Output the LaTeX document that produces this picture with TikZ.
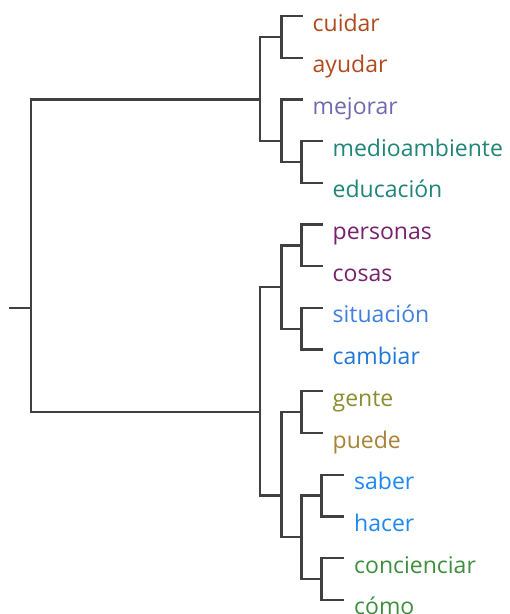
\documentclass[tikz,border=0pt]{standalone}
\usepackage{fontspec}
\setmainfont{Open Sans}
\begin{document}
\begin{tikzpicture}[x=1pt,y=-1pt,
  branch/.style={draw=black!75,line width=2.3pt,line cap=rect,line join=miter},
  leaf/.style={anchor=base west,inner sep=0pt,font=\fontsize{23}{27}\selectfont},
]
\definecolor{cBrown}{HTML}{B04A1C}
\definecolor{cLav}{HTML}{6E6AAE}
\definecolor{cTeal}{HTML}{1F8578}
\definecolor{cPurple}{HTML}{76206E}
\definecolor{cSky}{HTML}{3F7FE0}
\definecolor{cBlue}{HTML}{1E78D8}
\definecolor{cOlive}{HTML}{8C8C30}
\definecolor{cTan}{HTML}{A88238}
\definecolor{cAzure}{HTML}{1E88F0}
\definecolor{cGreen}{HTML}{3E8E3E}
\useasboundingbox (0,0) rectangle (510,614);

% leaf ends: (x of line end, y of line)
\coordinate (e1)  at (301.5, 16);
\coordinate (e2)  at (301.5, 57.7);
\coordinate (e3)  at (301.5, 99.4);
\coordinate (e4)  at (321.5,141.1);
\coordinate (e5)  at (321.5,182.8);
\coordinate (e6)  at (321.5,224.5);
\coordinate (e7)  at (321.5,266.2);
\coordinate (e8)  at (321.5,307.9);
\coordinate (e9)  at (321.5,349.6);
\coordinate (e10) at (321.5,391.3);
\coordinate (e11) at (321.5,433);
\coordinate (e12) at (343,474.7);
\coordinate (e13) at (343,516.4);
\coordinate (e14) at (343,558.1);
\coordinate (e15) at (343,599.8);

% leaf labels
\node[leaf,text=cBrown]  (cuidar)   at ([xshift=11pt,yshift=-15pt]e1)  {cuidar};
\node[leaf,text=cBrown]  (ayudar)   at ([xshift=11pt,yshift=-15pt]e2)  {ayudar};
\node[leaf,text=cLav]    (mejorar)  at ([xshift=11pt,yshift=-15pt]e3)  {mejorar};
\node[leaf,text=cTeal]   (medio)    at ([xshift=11pt,yshift=-15pt]e4)  {medioambiente};
\node[leaf,text=cTeal]   (educ)     at ([xshift=11pt,yshift=-15pt]e5)  {educación};
\node[leaf,text=cPurple] (personas) at ([xshift=11pt,yshift=-15pt]e6)  {personas};
\node[leaf,text=cPurple] (cosas)    at ([xshift=11pt,yshift=-15pt]e7)  {cosas};
\node[leaf,text=cSky]    (situacion) at ([xshift=11pt,yshift=-15pt]e8) {situación};
\node[leaf,text=cBlue]   (cambiar)  at ([xshift=11pt,yshift=-15pt]e9)  {cambiar};
\node[leaf,text=cOlive]  (gente)    at ([xshift=11pt,yshift=-15pt]e10) {gente};
\node[leaf,text=cTan]    (puede)    at ([xshift=11pt,yshift=-15pt]e11) {puede};
\node[leaf,text=cAzure]  (saber)    at ([xshift=11pt,yshift=-15pt]e12) {saber};
\node[leaf,text=cAzure]  (hacer)    at ([xshift=11pt,yshift=-15pt]e13) {hacer};
\node[leaf,text=cGreen]  (concienciar) at ([xshift=11pt,yshift=-15pt]e14) {concienciar};
\node[leaf,text=cGreen]  (como)     at ([xshift=11pt,yshift=-15pt]e15) {cómo};

% merge points (x of the vertical bar, mean y of the leaves below)
\coordinate (ca)   at (281.5, 36.85);
\coordinate (me)   at (301.5,161.95);
\coordinate (mej)  at (281.5,141.1);
\coordinate (top)  at (260, 99.4);
\coordinate (pc)   at (301.5,245.35);
\coordinate (sc)   at (301.5,328.75);
\coordinate (pcsc) at (281.5,287.05);
\coordinate (gp)   at (301.5,412.15);
\coordinate (sh)   at (321.5,495.55);
\coordinate (cc)   at (321.5,578.95);
\coordinate (shcc) at (301.5,537.25);
\coordinate (gpsh) at (281.5,495.55);
\coordinate (bot)  at (260,412.15);
\coordinate (root) at (31,307.9);
\coordinate (stub) at (10,307.9);

% brackets
\draw[branch] (e1) -| (ca) |- (e2);
\draw[branch] (e4) -| (me) |- (e5);
\draw[branch] (e3) -| (mej) |- (me);
\draw[branch] (ca) -| (top) |- (mej);
\draw[branch] (e6) -| (pc) |- (e7);
\draw[branch] (e8) -| (sc) |- (e9);
\draw[branch] (pc) -| (pcsc) |- (sc);
\draw[branch] (e10) -| (gp) |- (e11);
\draw[branch] (e12) -| (sh) |- (e13);
\draw[branch] (e14) -| (cc) |- (e15);
\draw[branch] (sh) -| (shcc) |- (cc);
\draw[branch] (gp) -| (gpsh) |- (shcc);
\draw[branch] (pcsc) -| (bot) |- (gpsh);
\draw[branch] (top) -| (root) |- (bot);
\draw[branch] (stub) -- (root);
\end{tikzpicture}
\end{document}
